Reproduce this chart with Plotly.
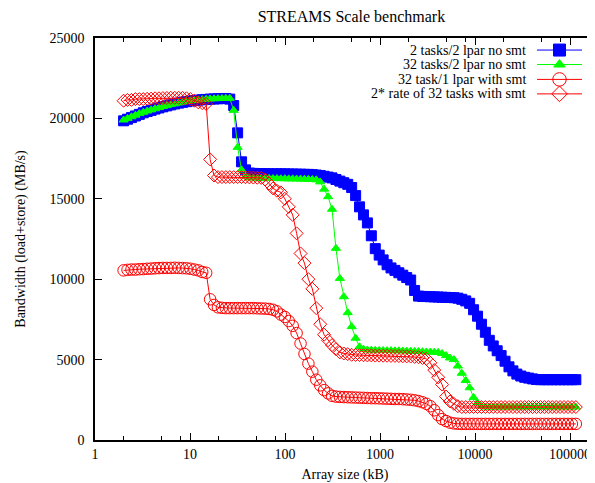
import plotly.graph_objects as go

# Array sizes (kB)
array_kb = [2, 2.2, 2.42, 2.662, 2.928, 3.221, 3.543, 3.897, 4.287, 4.716,
            5.187, 5.706, 6.277, 6.905, 7.595, 8.354, 9.19, 10.11, 11.12, 12.23,
            13.45, 14.8, 16.28, 17.9, 19.7, 21.67, 23.83, 26.21, 28.83, 31.72,
            34.89, 38.38, 42.22, 46.44, 51.08, 56.19, 61.81, 67.99, 74.79, 82.27,
            90.5, 99.55, 109.5, 120.5, 132.5, 145.8, 160.3, 176.4, 194, 213.4,
            234.8, 258.2, 284.1, 312.5, 343.7, 378.1, 415.9, 457.5, 503.2, 553.6,
            608.9, 669.8, 736.8, 810.5, 891.5, 980.7, 1079, 1187, 1305, 1436,
            1579, 1737, 1911, 2102, 2312, 2544, 2798, 3078, 3386, 3724,
            4097, 4506, 4957, 5453, 5998, 6598, 7258, 7983, 8782, 9660,
            10626, 11689, 12858, 14143, 15558, 17113, 18825, 20707, 22778, 25056,
            27561, 30318, 33349, 36684, 40353, 44388, 48827, 53710, 59081, 64989,
            71488, 78636, 86500, 95150, 104665, 115131]

tasks2_lpar2 = [19850, 19950, 20050, 20150, 20250, 20350, 20430, 20500, 20580, 20650,
                20720, 20780, 20840, 20900, 20950, 21000, 21040, 21080, 21110, 21140,
                21160, 21180, 21200, 21210, 21220, 21230, 21240, 21200, 20800, 19100,
                17300, 16800, 16600, 16580, 16570, 16560, 16560, 16550, 16550, 16550,
                16550, 16550, 16540, 16540, 16530, 16530, 16520, 16520, 16500, 16480,
                16450, 16400, 16350, 16300, 16200, 16100, 16000, 15900, 15700, 15200,
                14500, 14000, 13500, 12700, 11900, 11500, 11200, 10900, 10700, 10550,
                10400, 10250, 10100, 9950, 9300, 8950, 8930, 8920, 8910, 8900,
                8890, 8880, 8870, 8860, 8850, 8820, 8750, 8650, 8500, 8100,
                7700, 7200, 6700, 6200, 5850, 5550, 5250, 4900, 4550, 4300,
                4100, 3980, 3900, 3850, 3800, 3760, 3750, 3750, 3750, 3750,
                3750, 3750, 3750, 3750, 3750, 3750]

tasks32_lpar2 = [19900, 20000, 20100, 20200, 20300, 20380, 20460, 20530, 20600, 20670,
                 20740, 20800, 20860, 20910, 20960, 21010, 21050, 21090, 21120, 21150,
                 21170, 21190, 21210, 21220, 21230, 21240, 21250, 21250, 20500, 18200,
                 16800, 16400, 16300, 16290, 16280, 16280, 16270, 16270, 16260, 16260,
                 16250, 16250, 16240, 16240, 16230, 16230, 16220, 16210, 16200, 16180,
                 16050, 15600, 15130, 14350, 11920, 10050, 8910, 7920, 7050, 6330,
                 5800, 5650, 5600, 5590, 5580, 5570, 5570, 5560, 5560, 5550,
                 5550, 5540, 5530, 5520, 5510, 5500, 5490, 5480, 5470, 5460,
                 5450, 5380, 5250, 5100, 5000, 4600, 4150, 3700, 3250, 2650,
                 2300, 2100, 2050, 2050, 2050, 2050, 2050, 2050, 2050, 2050,
                 2050, 2050, 2050, 2050, 2050, 2050, 2050, 2050, 2050, 2050,
                 2050, 2050, 2050, 2050, 2050, 2050]

task32_lpar1_smt = [10550, 10580, 10600, 10600, 10620, 10630, 10650, 10660, 10680, 10690,
                    10700, 10700, 10700, 10710, 10700, 10690, 10680, 10650, 10600, 10550,
                    10450, 10400, 8750, 8400, 8250, 8220, 8200, 8200, 8200, 8200,
                    8200, 8200, 8200, 8200, 8190, 8180, 8170, 8150, 8100, 8000,
                    7800, 7650, 7400, 7100, 6650, 6000, 5350, 4750, 4250, 3750,
                    3400, 3100, 2900, 2750, 2700, 2680, 2670, 2660, 2650, 2640,
                    2630, 2620, 2610, 2600, 2600, 2590, 2580, 2570, 2560, 2550,
                    2550, 2540, 2520, 2500, 2470, 2420, 2350, 2250, 2100, 1850,
                    1550, 1300, 1180, 1080, 1030, 1010, 1000, 1000, 1000, 1000,
                    1000, 1000, 1000, 1000, 1000, 1000, 1000, 1000, 1000, 1000,
                    1000, 1000, 1000, 1000, 1000, 1000, 1000, 1000, 1000, 1000,
                    1000, 1000, 1000, 1000, 1000, 1000]

rate2x_32_smt = [21100, 21150, 21150, 21200, 21200, 21200, 21220, 21230, 21250, 21250,
                 21260, 21270, 21280, 21280, 21280, 21270, 21250, 21200, 21100, 21000,
                 20950, 20900, 17450, 16450, 16350, 16350, 16350, 16350, 16350, 16350,
                 16350, 16340, 16330, 16320, 16310, 16300, 16200, 15950, 15650, 15500,
                 15400, 15000, 14500, 14000, 12850, 11600, 11000, 10000, 9400, 8200,
                 7200, 6550, 6200, 5900, 5650, 5450, 5380, 5340, 5300, 5290,
                 5280, 5270, 5260, 5260, 5250, 5250, 5240, 5240, 5230, 5230,
                 5220, 5210, 5200, 5190, 5170, 5150, 5100, 5050, 4800, 4350,
                 3900, 3450, 2700, 2400, 2250, 2100, 2050, 2050, 2050, 2050,
                 2050, 2050, 2050, 2050, 2050, 2050, 2050, 2050, 2050, 2050,
                 2050, 2050, 2050, 2050, 2050, 2050, 2050, 2050, 2050, 2050,
                 2050, 2050, 2050, 2050, 2050, 2050]

series_names = ["2 tasks/2 lpar no smt", "32 tasks/2 lpar no smt",
                "32 task/1 lpar with smt", "2* rate of 32 tasks with smt"]
x_tick_vals = [1, 10, 100, 1000, 10000, 100000]
x_tick_text = ["1", "10", "100", "1000", "10000", "100000"]
x_minor_vals = [m * d for d in [1, 10, 100, 1000, 10000, 100000] for m in (2, 5, 8)]

FONT = "Liberation Serif"
styles = [
    dict(color="#0000ff", symbol="square", size=10, width=1),
    dict(color="#00ff00", symbol="triangle-up", size=8, width=1),
    dict(color="#ff0000", symbol="circle-open", size=11.5, width=1),
    dict(color="#ff0000", symbol="diamond-open", size=10, width=1),
]
ys = [tasks2_lpar2, tasks32_lpar2, task32_lpar1_smt, rate2x_32_smt]

fig = go.Figure()
for name, y, st in zip(series_names, ys, styles):
    fig.add_trace(go.Scatter(
        x=array_kb, y=y, name=name, mode="lines+markers",
        line=dict(color=st["color"], width=st["width"]),
        marker=dict(symbol=st["symbol"], size=st["size"], color=st["color"],
                    line=dict(color=st["color"], width=1)),
        showlegend=False))

# custom legend (text left of sample, gnuplot style)
leg_y = [0.970, 0.934, 0.897, 0.861]
for name, st, ly in zip(series_names, styles, leg_y):
    fig.add_trace(go.Scatter(
        x=[0.884, 0.974], y=[ly, ly], xaxis="x2", yaxis="y2", mode="lines",
        line=dict(color=st["color"], width=st["width"]), showlegend=False,
        hoverinfo="skip"))
    fig.add_trace(go.Scatter(
        x=[0.929], y=[ly], xaxis="x2", yaxis="y2", mode="markers",
        marker=dict(symbol=st["symbol"], size=st["size"] + 2, color=st["color"],
                    line=dict(color=st["color"], width=1)),
        showlegend=False, hoverinfo="skip"))
    fig.add_annotation(x=0.866, y=ly, xref="paper", yref="paper", text=name,
                       showarrow=False, xanchor="right", yanchor="middle",
                       font=dict(family=FONT, size=14, color="black"))

# page body has an 8px margin: figure sized/offset so the plot lands where the reference has it
fig.update_layout(
    width=587, height=475,
    margin=dict(l=87, r=0, t=30, b=43, autoexpand=False),
    paper_bgcolor="white", plot_bgcolor="white",
    font=dict(family=FONT, size=14, color="black"),
    title=dict(text="STREAMS Scale benchmark", x=0.585, xanchor="center",
               y=0.982, yanchor="middle", font=dict(family=FONT, size=16)),
    xaxis=dict(type="log", range=[0, 5.263], tickmode="array",
               tickvals=x_tick_vals, ticktext=x_tick_text,
               ticks="inside", ticklen=7, tickwidth=1, tickcolor="black",
               showline=True, linecolor="black", linewidth=1.5, mirror="ticks",
               showgrid=False, zeroline=False, automargin=False,
               minor=dict(tickmode="array", tickvals=x_minor_vals, ticks="inside",
                          ticklen=4, tickwidth=1, tickcolor="black", showgrid=False),
               title=dict(text="Array size (kB)", standoff=11,
                          font=dict(family=FONT, size=14))),
    yaxis=dict(range=[0, 25000], tickmode="linear", tick0=0, dtick=5000,
               tickformat="d", ticks="inside", ticklen=7, tickwidth=1,
               tickcolor="black", showline=True, linecolor="black", linewidth=1.5,
               showgrid=False, zeroline=False, automargin=False,
               ticklabelstandoff=6,
               title=dict(text="Bandwidth (load+store) (MB/s)", standoff=21,
                          font=dict(family=FONT, size=14))),
    xaxis2=dict(overlaying="x", range=[0, 1], visible=False, anchor="y2"),
    yaxis2=dict(overlaying="y", range=[0, 1], visible=False, anchor="x2"),
)

fig.write_html("out.html")
